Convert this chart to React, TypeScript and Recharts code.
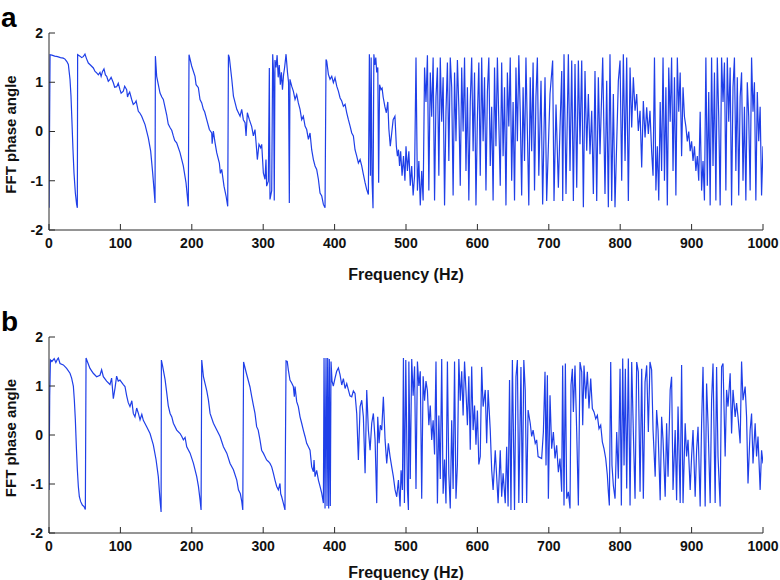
import { LineChart, Line, XAxis, YAxis, Label } from 'recharts';

const FONT = 'Arial, "Liberation Sans", Helvetica, sans-serif';
const LINE_BLUE = '#1f3fe8';
const FRAME = '#2b2b2b';

const freqTicks = [0, 100, 200, 300, 400, 500, 600, 700, 800, 900, 1000];
const phaseTicks = [-2, -1, 0, 1, 2];

// panel a, below 500 Hz: wrapped phase ramps [Hz, rad]
const lowBandA: [number, number][] = [
  [0, -1.55], [1.5, 1.56], [4, 1.55], [8, 1.53], [12, 1.52], [16, 1.5], [20, 1.49], [22.4, 1.47], [25, 1.42], [27.1, 1.36], [29.4, 1.06], [30.8, 0.72], [32.2, 0.18], [33.6, -0.37], [35, -0.84], [36.9, -1.25], [38.7, -1.48], [39.7, -1.55],
  [40.1, 1.56], [43.4, 1.53], [45.7, 1.5], [48, 1.52], [50.4, 1.57], [52.5, 1.48], [55.1, 1.39], [58, 1.35], [62.1, 1.29], [64.5, 1.22], [66.8, 1.19], [69.1, 1.15], [71.4, 1.2], [73, 1.12], [75, 1.22], [77, 1.27], [79, 1.15], [80.8, 1.12], [83, 1.02], [85.4, 1.06], [87, 1.1], [90.1, 0.99], [92, 0.9], [94.8, 0.91], [97, 0.98], [99.4, 0.85], [101, 0.78], [104.1, 0.82], [106, 0.92], [108.8, 0.85], [110, 0.7], [111.1, 0.75], [113, 0.8], [115.8, 0.65], [118, 0.55], [120.4, 0.58], [122, 0.62], [125.1, 0.41], [127, 0.38], [129.8, 0.31], [134.5, 0.14], [139.1, -0.13], [142.4, -0.4], [145.2, -0.84], [147.1, -1.18], [148.5, -1.45],
  [149, 1.53], [150.8, 1.12], [155.5, 0.78], [158, 0.7], [160.1, 0.65], [164.8, 0.34], [167, 0.15], [169.5, 0.08], [172, 0.02], [174.1, -0.09], [176, -0.18], [178.8, -0.23], [183.5, -0.43], [188.1, -0.7], [191.9, -1.04], [195.1, -1.52],
  [196.1, 1.56], [199.8, 1.33], [204.5, 1.12], [206, 0.95], [209.2, 0.89], [211.5, 0.65], [213.9, 0.58], [216.2, 0.45], [218, 0.4], [220.9, 0.24], [224.6, 0.04], [227.9, -0.03], [228.5, -0.25], [230.2, 0.01], [232.6, -0.23], [234.9, -0.43], [238.6, -0.64], [240, -0.85], [241.9, -0.77], [245.1, -1.11], [248, -1.31], [250.3, -1.52],
  [251.3, 1.56], [252.6, 1.5], [256, 1.06], [258.3, 0.72], [263, 0.45], [267.6, 0.31], [269.9, 0.45], [272.2, 0.24], [274.6, 0.18], [276, -0.09], [277.8, 0.38], [280.6, 0.24], [283.9, 0.1], [286.2, -0.09], [288.5, 0.04], [290.8, -0.37], [291.8, -0.57], [294.1, -0.26], [296.5, -0.33], [297.9, -0.26], [300.2, -0.84], [302.5, -0.97], [303.9, -0.57], [304.8, -1.11], [307.2, -1.01],
  [308.6, 1.29], [309.5, -1.38], [311.9, -1.2], [313.3, 1.57], [314.5, 1.2], [315.5, -1.4], [316.5, 1.45], [318, 1.3], [319.5, 1.55], [321, 1.1], [322.5, 1.35], [324, 0.95], [325.5, 1.2], [327, 0.85], [328.5, 1.15], [330, 1.3], [332, 1.57], [334, 1.2], [335.5, 1.0], [336.6, -1.45], [337.5, 1.06],
  [339.9, 0.92], [342.2, 0.82], [344.6, 0.65], [346.9, 0.75], [349.2, 0.58], [351.6, 0.45], [353.9, 0.24], [356.2, 0.31], [358.6, 0.11], [360.9, 0.04], [363.3, -0.16], [365.6, -0.03], [367.9, -0.37], [370.3, -0.57], [372.6, -0.7], [374.9, -0.77], [377.3, -0.97], [379.6, -1.25], [382, -1.31], [384.3, -1.48], [386.6, -1.55],
  [388, 1.46], [389, 1.43], [391.3, 1.16], [393.6, 1.06], [396, 1.12], [398.3, 0.99], [400.6, 1.09], [403, 0.92], [405.3, 0.82], [407.7, 0.68], [410, 0.62], [412.3, 0.51], [414.7, 0.55], [417, 0.38], [419.3, 0.24], [421.7, 0.11], [424, -0.03], [426.3, -0.09], [428.6, -0.37], [431, -0.5], [433.3, -0.64], [435.7, -0.57], [438, -0.7], [440.3, -0.87], [442.7, -1.04], [445, -1.18], [447.3, -1.28],
  [448.7, 1.57], [450.2, -0.9], [451.2, 1.5], [452.5, -1.0], [453.8, -1.56], [455, 1.57], [456.3, 1.35], [457.7, 1.5], [459, 1.2], [460.5, 1.3], [461.7, -1.04], [463, 0.95], [465, 0.85], [466.5, 0.88], [468, 0.7], [470.5, 0.5], [472.5, 0.38], [474.5, 0.6], [476, 0.05], [478, -0.3], [479.5, -0.1], [482, 0.24], [484.5, 0.31], [486.5, -0.3], [488, -0.5], [489.5, -0.37], [491, -0.7], [492.5, -0.4], [494.5, -0.9], [496.5, -0.5], [498.5, -1.0],
];

// panel a, 500-1000 Hz: noisy wrapped phase
const highBandA: [number, number][] = [
  [500, -0.3], [502, -0.8], [504, -0.4], [506, -1.1], [508, -0.7], [510, -1.3], [512, -0.9], [514, 1.5], [516, -1.2], [518, -0.6], [520, -1.5], [522, -0.8], [524, -1.4], [526, 1.3], [528, 0.6], [530, 1.55], [532, -1.2], [534, 1.2], [536, 0.3], [538, 1.5], [540, -1.4], [542, 0.7], [544, 1.3], [546, -0.9], [548, 1.5], [550, 0.2], [552, 1.1], [554, -1.5], [556, 0.4], [558, 1.4], [560, -0.6], [562, 1.5], [564, 0.9], [566, -1.3], [568, 1.2], [570, -0.2], [572, 1.45], [574, 0.5], [576, -1.1], [578, 1.3], [580, 0], [582, 1.5], [584, -0.8], [586, 0.9], [588, -1.4], [590, 0.6], [592, 1.5], [594, -0.4], [596, 1.2], [598, -1.5], [600, 0.3], [602, 1.4], [604, -0.9], [606, 1.5], [608, -0.2], [610, 1.1], [612, -1.2], [614, 0.8], [616, 1.5], [618, -0.7], [620, 0.5], [622, -1.4], [624, 1.3], [626, -0.3], [628, 1.5], [630, 0.2], [632, -1.1],
  [634, 1.4], [636, -0.5], [638, 0.9], [640, -1.5], [642, 1.2], [644, 0.1], [646, 1.5], [648, -1.0], [650, 0.6], [652, -1.4], [654, 1.3], [656, -0.2], [658, 1.55], [660, 0.4], [662, -1.3], [664, 0.9], [666, -0.6], [668, 1.5], [670, 0], [672, -1.5], [674, 1.1], [676, -0.4], [678, 1.4], [680, -1.2], [682, 0.7], [684, 1.5], [686, -0.9],
  [689.1, 1.03], [691.4, -1.48], [694.7, 1.1], [697, -1.41], [701.7, 0.76], [705.4, 1.44], [707.3, -1.41], [710.1, 0.55], [713.4, -1.14], [715.7, 0.08], [718.1, 1.23], [719.5, -1.41], [721.3, 1.57], [724.1, -1.27], [727.4, 1.57], [729.7, -0.8], [732.1, 1.44], [734.4, -1.41], [736.7, 1.37], [739.1, -1.14], [741.4, 1.44], [743.7, -0.26], [746.1, 1.44], [748.4, -1.54], [750.7, 1.23], [753.1, -0.39], [755.4, 0.76], [757.7, -0.46], [760.1, 0.42], [762.4, -1.27], [764.7, 1.23], [767.1, -1.41], [769.4, 1.1], [771.7, -0.46], [775.5, 1.5], [778.7, -1.27], [781.1, 1.03], [783.4, -1.54], [785.7, 1.57], [788.1, -1.41], [790.4, 0.76], [792.7, -1.54], [797.4, 1.03], [799.8, 1.44], [802.1, -1.0], [804.4, 1.57], [806.8, -0.6], [809.1, 1.5], [811.4, -1.41], [813.8, 1.3], [816.1, 0.08], [818.4, 1.1], [820.8, 0.42], [823.1, 0.76], [825.4, 0.01], [827.8, 0.42], [830.1, -0.73], [832.4, 0.62], [834.8, -0.12], [837.1, 0.49], [839.4, -0.05], [841.7, 0.42],
  [844, -0.4], [846, -0.9], [848, 1.5], [850, -1.2], [852, -0.3], [854, -1.4], [856, 0.6], [858, -0.8], [860, 1.5], [862, -1.0], [864, 0.9], [866, -1.5], [868, 1.3], [870, 0.2], [872, 1.5], [874, -0.8], [876, 1.1], [878, -1.3], [880, 1.5], [882, 0.4], [884, 1.2], [886, -0.5], [888, 0.9], [890, 0.3], [892, 0.1], [894, -0.2], [896, 0], [898, -0.4], [900, -0.2], [902, -0.6], [904, -0.3], [906, -0.8], [908, -0.5], [910, -1.0], [912, 0.4], [914, -1.2], [916, -0.6], [918, -1.4], [920, 1.5], [922, -1.1], [924, 0.8], [926, -1.5], [928, 1.5], [930, -0.7], [932, 1.2], [934, -1.4], [936, 1.5], [938, 0.3], [940, -1.5], [942, 1.5], [944, 0.6], [946, 1.4], [948, -1.2], [950, 1.5], [952, 0.2], [954, 1.3], [956, -1.5], [958, 0.9], [960, 1.5], [962, -0.8], [964, 1.1], [966, -1.3], [968, 0.7], [970, 1.2], [972, -1.0], [974, 0.5], [976, -1.4], [978, 1.0], [980, 0.3], [982, -1.2], [984, 1.5], [986, 0.4], [988, 1.0], [990, -1.4], [992, 0.8], [994, -0.2], [996, 0.5], [998, -1.3], [1000, -0.3],
];

// panel b, below 504 Hz
const lowBandB: [number, number][] = [
  [0, -1.12], [1, 0.8], [2, 1.53], [4, 1.5], [7.3, 1.56], [9.6, 1.48], [11.9, 1.55], [13.1, 1.57], [15.4, 1.46], [20.1, 1.43], [24.7, 1.36], [29.4, 1.26], [31.7, 1.16], [34.1, 1.0], [35.5, 0.71], [36.9, 0.31], [38.3, -0.24], [39.7, -0.71], [41.1, -1.05], [42.5, -1.26], [44.4, -1.36], [46.7, -1.43], [49, -1.46], [50.9, -1.52],
  [51.9, 1.57], [53.7, 1.5], [57.4, 1.36], [62, 1.26], [66.7, 1.19], [71.4, 1.22], [73.7, 1.33], [76.1, 1.19], [80.7, 1.1], [85.4, 1.03], [87.7, 1.16], [90.1, 0.74], [92.4, 0.95], [94.7, 1.2], [97, 1.1], [99.4, 1.12], [104.1, 1.03], [106.4, 0.99], [108.8, 0.8], [111, 0.66], [113.4, 0.58], [116, 0.7], [118.1, 0.44], [120.4, 0.37], [122.8, 0.55], [125, 0.45], [127.5, 0.31], [130, 0.42], [132.1, 0.3], [136.8, 0.17], [141.5, 0.03], [146.1, -0.2], [149.9, -0.5], [153.1, -0.85], [155.5, -1.33], [157, -1.57],
  [157.4, 1.53], [159.2, 1.4], [162.6, 1.13], [164.9, 0.86], [167, 0.6], [169.6, 0.44], [172, 0.37], [174.2, 0.24], [178.9, 0.1], [183.6, 0.03], [186, -0.03], [188.2, -0.1], [190.6, -0.05], [192.9, -0.24], [197.6, -0.37], [202.3, -0.58], [206.9, -0.85], [209.3, -1.05], [211.6, -1.33], [213, -1.53],
  [213.9, 1.53], [216.3, 1.19], [218.6, 1.05], [221, 0.9], [223.3, 0.71], [225.6, 0.44], [230.3, 0.24], [235, 0.1], [239.6, -0.03], [244.3, -0.24], [249, -0.37], [253.6, -0.58], [258.3, -0.71], [263, -0.92], [265.3, -1.12], [268, -1.2], [270, -1.36], [271.4, -1.53],
  [272.5, 1.49], [276.8, 1.24], [281.5, 0.98], [284, 0.78], [286.2, 0.61], [288.5, 0.44], [290.8, 0.17], [293, 0.1], [295.5, -0.1], [297.8, -0.31], [300.2, -0.37], [302.5, -0.44], [304.8, -0.51], [307.2, -0.54], [309.5, -0.58], [311.9, -0.65], [314.2, -0.78], [316.5, -0.92], [318.9, -1.05], [321.2, -1.12], [323.5, -0.99], [324.5, -1.2], [325.9, -1.26], [328.2, -1.39], [330.5, -1.53],
  [332, 1.51], [333.7, 1.5], [335.2, 1.33], [337.5, 1.12], [339.9, 1.06], [342.2, 0.99], [343.6, 0.78], [344.6, 0.99], [346.9, 0.68], [349.2, 0.58], [351.6, 0.37], [353.9, 0.24], [356.2, 0.1], [358.6, -0.03], [360.9, -0.17], [363.3, -0.24], [365.6, -0.31], [367.9, -0.65], [370.3, -0.75], [371.2, -0.51], [372.6, -0.85], [374.9, -0.72], [377.3, -0.92], [379.6, -1.05], [382, -1.19], [384.3, -1.39],
  [385.2, 1.57], [386.6, -1.5], [388, 1.57], [389.4, -1.45], [390.3, 1.57], [391.7, -1.5], [392.6, 1.55], [394, -1.45], [395, 1.5], [396.4, 1.1], [398.2, 1.0], [400.6, 1.16], [402.9, 1.3], [405.3, 1.37], [407.6, 1.23], [410, 1.02], [412.3, 1.15], [414.7, 0.95], [417, 1.05], [419.3, 0.92], [421.5, 0.8], [424, 0.78], [426.3, 0.9], [428.6, 0.85], [431, 0.44], [433.3, -0.51], [435.7, 0.58], [438, 0.71], [440.3, 0.37], [442.7, -0.78], [445, 0.92], [447.3, 0.1], [449.7, -0.31], [452, 0.24], [454.3, 0.44], [456.7, -0.1], [459, -1.39], [460.4, 0.37], [462.3, -0.17], [464, 0.2], [466, 0.1], [468.3, 0.78], [470.7, -0.1], [473, -0.58], [475.3, -0.17], [477.7, -0.44], [480, -0.65], [482.3, -0.85], [484.7, -1.12], [487, -1.26], [489.4, -0.92], [491.7, -1.46], [493.1, -0.72], [495, -1.12], [496.4, 1.57], [497.8, -1.39], [499.7, 1.53], [502, -1.12], [503.4, -1.53],
];

// panel b, 504-1000 Hz
const highBandB: [number, number][] = [
  [504, 1.5], [506, -0.9], [508, 1.55], [510, 0.8], [512, 1.4], [514, -1.1], [516, 1.5], [518, 1.0], [520, 1.3], [522, -1.3], [524, 1.2], [526, 0.7], [528, 1.1], [530, 0.9], [532, 0.2], [534, 0.6], [536, -0.1], [538, 0.3], [540, -0.4], [542, 1.5], [544, -1.4], [546, 0.4], [548, -0.9], [550, 1.55], [552, -1.2], [554, -0.5], [556, -1.4], [558, 1.5], [560, -0.8], [562, -1.5], [564, 0.3], [566, -1.1], [568, 1.5], [570, -1.3], [572, -0.6], [574, 1.55], [576, 0.7], [578, 1.3], [580, 0.4], [582, 1.5], [584, 0.9], [586, 0.2], [588, 1.2], [590, -0.3], [592, 1.4], [594, 0.1], [596, 0.6], [598, -0.2], [600, 0.5], [602, -0.6],
  [604, -0.44], [606, 1.39], [608, 0.58], [611, 0.92], [613, -0.17], [615, 0.92], [618, 0.1], [620, -0.71], [622, -1.12], [625, -0.31], [627, -0.85], [629, -1.39], [632, -0.31], [634, -1.26], [636, -0.78], [639, -1.39], [641, -0.24], [643, -1.46], [645, 1.12], [647, -1.53], [649, 1.53], [652, -1.53], [654, 1.19], [656, 1.53], [658, -1.39], [661, 1.39], [663, -1.39], [665, 1.53], [667, 0.92], [669, -1.39], [671, 0.51], [674, 0.24], [676, -0.03], [678, 0.1], [681, -0.17], [683, -0.1], [685, -0.44],
  [690, -0.48], [692.4, 0.06], [694.7, 1.29], [696.1, -0.62], [698, 1.22], [699.4, -1.3], [701.7, 0.81], [704, -0.28], [706.4, 0.06], [708.7, -0.48], [711, -0.21], [713.4, -0.76], [715.7, -0.48], [718, -1.16], [719.4, 1.42], [721.3, -1.44], [723.2, 1.46], [725.1, -1.3], [727.4, -1.16], [729.7, -1.5], [731.1, 1.02], [733, 1.35], [734.4, 0.47], [736.7, 1.42], [739.1, 0.06], [741.4, -1.44], [743.7, 1.49], [746.1, 1.29], [747.5, 0.2], [749.3, 1.42], [751.7, 0.74], [754, 1.29], [756.3, 0.54], [758.7, 1.15], [761, 0.54], [763.3, 0.47], [765.7, 0.33], [768, 0.4], [770.3, 0.13], [772.7, 0.2], [775, -0.14], [777.3, -0.28], [779.7, -0.48], [782, -0.82], [783.4, -1.16], [784.8, -1.44], [786.7, 1.49], [788.5, -0.62], [790.4, -1.03], [792.8, -1.3], [795.1, 0.06], [797.4, -0.89], [799.8, 1.35], [801.6, -1.44], [803.5, 1.56], [805.4, -0.62], [807.2, 1.35], [809.1, -1.09], [811.4, 1.56], [813.8, -1.44], [816.1, 1.49], [818.4, 0.06], [820.8, -1.3], [823.1, 1.49], [825.4, 1.29], [827.8, -1.16], [830.1, 1.35], [832.4, -1.3], [834.8, 1.08], [837.1, 1.42], [839.4, 0.06], [841.7, 1.49],
  [844, 1.33], [846, 0.1], [849, -0.85], [851, 0.51], [853, 0.1], [856, -1.33], [858, 0.37], [860, -0.1], [863, -1.26], [865, 0.24], [867, -0.85], [870, 0.92], [872, 1.19], [874, -1.12], [877, 0.1], [879, -1.33], [881, 0.58], [884, -1.39], [886, 1.43], [888, -1.39], [891, 0.24], [893, -0.44], [895, -0.1], [898, -1.12], [900, -0.44], [902, 0.1], [905, -1.26], [907, -0.31], [909, 0.17], [912, -1.46], [914, 0.24], [916, 1.39], [919, -1.46], [921, 1.05], [923, 0.24], [926, -1.39], [928, 0.71], [930, 1.46], [933, -1.39], [935, 1.39], [937, -0.44], [940, -1.46], [942, 1.39], [944, 1.46], [947, -0.44], [949, 0.92], [951, 0.58], [954, 1.26], [956, 0.03], [958, 0.92], [961, 0.37], [963, 0.65], [965, 0.37], [968, -0.17], [970, 1.5], [972, 0.71], [975, 0.99], [977, 0.37], [979, -0.99], [982, 0.1], [984, 0.44], [986, -0.58], [989, 0.24], [991, -0.44], [993, -0.03], [996, -1.12], [998, -0.31], [1000, -0.58],
];

const toRows = (pts: [number, number][]) => pts.map(([f, v]) => ({ f, v }));
const dataA = toRows([...lowBandA, ...highBandA]);
const dataB = toRows([...lowBandB, ...highBandB]);

const tickFont = { fontFamily: FONT, fontSize: 14, fontWeight: 700, fill: '#111' };

interface PanelProps {
  letter: string;
  data: { f: number; v: number }[];
  marginTop: number;
  axisHeight: number;
  titleOffset: number;
}

const W = 780;
const H = 290;

const SpectrumPanel = ({ letter, data, marginTop, axisHeight, titleOffset }: PanelProps) => {
  const plotMid = marginTop + (H - marginTop - axisHeight) / 2 + 3;
  return (
    <div style={{ position: 'relative', width: W, height: H }}>
      <LineChart width={W} height={H} data={data} margin={{ top: marginTop, right: 17, bottom: 0, left: 0 }}>
        <XAxis
          xAxisId="bottom"
          type="number"
          dataKey="f"
          domain={[0, 1000]}
          ticks={freqTicks}
          interval={0}
          allowDataOverflow
          height={axisHeight}
          stroke={FRAME}
          tickSize={-6}
          tickMargin={14}
          tick={tickFont}
        >
          <Label
            value="Frequency (Hz)"
            position="insideBottom"
            offset={titleOffset}
            style={{ fontFamily: FONT, fontSize: 16, fontWeight: 700, fill: '#111' }}
          />
        </XAxis>
        <XAxis
          xAxisId="top"
          orientation="top"
          type="number"
          dataKey="f"
          domain={[0, 1000]}
          ticks={freqTicks}
          interval={0}
          allowDataOverflow
          height={0}
          stroke={FRAME}
          tickSize={-6}
          tick={false}
        />
        <YAxis
          yAxisId="left"
          type="number"
          domain={[-2, 2]}
          ticks={phaseTicks}
          interval={0}
          allowDataOverflow
          width={49}
          stroke={FRAME}
          tickSize={-6}
          tickMargin={12}
          tick={tickFont}
        />
        <YAxis
          yAxisId="right"
          orientation="right"
          type="number"
          domain={[-2, 2]}
          ticks={phaseTicks}
          interval={0}
          allowDataOverflow
          width={0}
          stroke={FRAME}
          tickSize={-6}
          tick={false}
        />
        <Line
          xAxisId="bottom"
          yAxisId="left"
          type="linear"
          dataKey="v"
          stroke={LINE_BLUE}
          strokeWidth={1.2}
          dot={false}
          activeDot={false}
          isAnimationActive={false}
        />
      </LineChart>
      <svg width={W} height={H} style={{ position: 'absolute', left: 0, top: 0, pointerEvents: 'none' }}>
        <text x={1} y={marginTop - 6} fontFamily={FONT} fontSize={28} fontWeight={700} fill="#000">
          {letter}
        </text>
        <text
          x={10}
          y={plotMid}
          transform={`rotate(-90 10 ${plotMid})`}
          textAnchor="middle"
          dominantBaseline="central"
          fontFamily={FONT}
          fontSize={15}
          fontWeight={700}
          fill="#111"
        >
          FFT phase angle
        </text>
      </svg>
    </div>
  );
};

export default function App() {
  return (
    <div style={{ position: 'absolute', left: 0, top: 0, width: W, height: 580, background: '#fff' }}>
      <SpectrumPanel letter="a" data={dataA} marginTop={33} axisHeight={60} titleOffset={10} />
      <SpectrumPanel letter="b" data={dataB} marginTop={47} axisHeight={47} titleOffset={2} />
    </div>
  );
}
